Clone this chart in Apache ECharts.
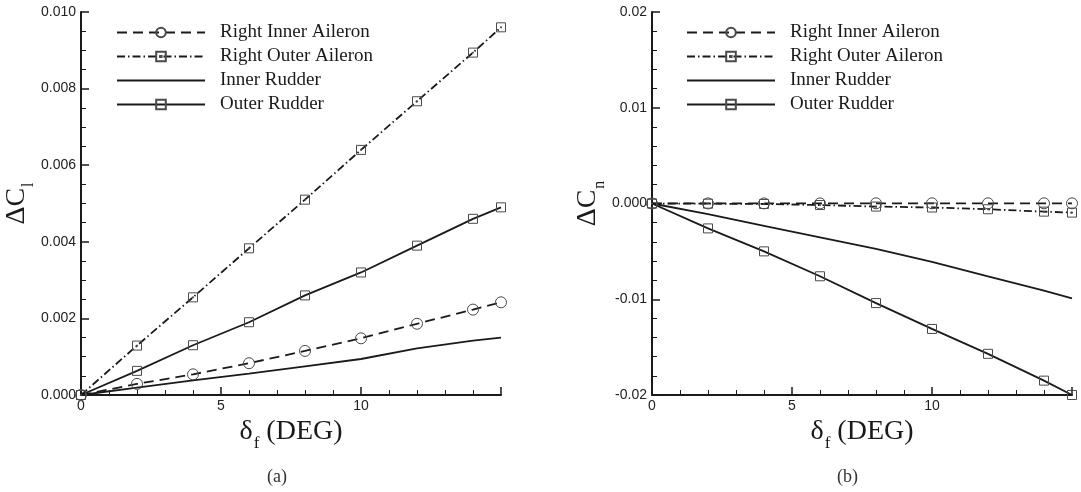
<!DOCTYPE html>
<html>
<head>
<meta charset="utf-8">
<script src="https://cdn.jsdelivr.net/npm/echarts@6/dist/echarts.min.js"></script>
<style>
  html, body { margin: 0; padding: 0; background: #fff; }
  #chart { width: 1081px; height: 492px; }
</style>
</head>
<body>
<div id="chart"></div>
<script>
// Flap deflection angles (deg)
const deflection = [0, 2, 4, 6, 8, 10, 12, 14, 15];

// Rolling-moment increments, panel (a)
const rightInnerAileronCl = [0, 0.00029, 0.00054, 0.00083, 0.00115, 0.00148, 0.00186, 0.00223, 0.00242];
const rightOuterAileronCl = [0, 0.00129, 0.00255, 0.00383, 0.0051, 0.0064, 0.00767, 0.00894, 0.0096];
const innerRudderCl       = [0, 0.00019, 0.00038, 0.00056, 0.00075, 0.00094, 0.00122, 0.00142, 0.0015];
const outerRudderCl       = [0, 0.00063, 0.0013, 0.0019, 0.0026, 0.0032, 0.0039, 0.0046, 0.0049];

// Yawing-moment increments, panel (b)
const rightInnerAileronCn = [0, 0.00001, 0.00001, 0.00001, 0.00002, 0.00002, 0.00002, 0.00002, 0.00002];
const rightOuterAileronCn = [0, -0.00002, -0.00005, -0.00016, -0.00032, -0.00042, -0.0006, -0.00085, -0.00095];
const innerRudderCn       = [0, -0.00112, -0.00233, -0.00353, -0.00475, -0.0061, -0.0076, -0.0091, -0.0099];
const outerRudderCn       = [0, -0.0026, -0.005, -0.0076, -0.0104, -0.0131, -0.0157, -0.0185, -0.02];

// Legend names
const seriesNames = ['Right Inner Aileron', 'Right Outer Aileron', 'Inner Rudder', 'Outer Rudder'];

// Tick labels
const xTickLabels  = { 0: '0', 5: '5', 10: '10', 15: '' };
const clTickLabels = ['0.000', '0.002', '0.004', '0.006', '0.008', '0.010'];
const cnTickLabels = { '-0.02': '-0.02', '-0.01': '-0.01', '0': '0.000', '0.01': '0.01', '0.02': '0.02' };

const INK = '#1a1a1a';
const MARK = '#4a4a4a';
const SANS = '"Liberation Sans", Arial, sans-serif';
const SERIF = '"Liberation Serif", "Times New Roman", serif';
const LINE_W = 1.8;

// square outline with a centre dot
const dottedSquare = 'path://M0,0L10,0L10,10L0,10Z M4.4,4.4L5.6,4.4L5.6,5.6L4.4,5.6Z';

function pairs(ys) { return deflection.map((x, i) => [x, ys[i]]); }

function lineSeries(idx, name, values, symbol, size, dash) {
  return {
    name: name, type: 'line', xAxisIndex: idx, yAxisIndex: idx,
    data: pairs(values),
    symbol: symbol, symbolSize: size, showSymbol: size > 0,
    lineStyle: { color: INK, width: LINE_W, type: dash },
    itemStyle: { color: 'rgba(0,0,0,0)', borderColor: MARK, borderWidth: 1 },
    emphasis: { disabled: true }
  };
}

function panelSeries(idx, a, b, c, d) {
  return [
    lineSeries(idx, seriesNames[1], b, dottedSquare, 9, [8, 3, 1.5, 3]),
    lineSeries(idx, seriesNames[2], c, 'circle', 0, 'solid'),
    lineSeries(idx, seriesNames[3], d, 'rect', 9, 'solid'),
    lineSeries(idx, seriesNames[0], a, 'circle', 11, [10, 6])
  ];
}

function xAxisFor(idx) {
  return {
    type: 'value', gridIndex: idx, min: 0, max: 15, interval: 5,
    name: '{d|δ}{s|f}{d| (DEG)}', nameLocation: 'middle', nameGap: 14,
    nameTextStyle: {
      rich: {
        d: { fontFamily: SERIF, fontSize: 28, lineHeight: 30, verticalAlign: 'top', color: INK },
        s: { fontFamily: SERIF, fontSize: 17, lineHeight: 17, padding: [17, 0, 0, 1], verticalAlign: 'top', color: INK }
      }
    },
    axisLine: { onZero: false, lineStyle: { color: INK, width: 2 } },
    axisTick: { inside: true, length: 8, lineStyle: { color: INK, width: 1.5 } },
    minorTick: { show: true, splitNumber: 5, length: 5, lineStyle: { color: INK, width: 1 } },
    splitLine: { show: false },
    axisLabel: {
      margin: 4, fontFamily: SANS, fontSize: 14, color: '#222',
      formatter: v => (xTickLabels[v] !== undefined ? xTickLabels[v] : String(v))
    }
  };
}

function yAxisFor(idx, min, max, interval, minorSplit, sub, fmt) {
  return {
    type: 'value', gridIndex: idx, min: min, max: max, interval: interval,
    name: '{a|ΔC}{s|' + sub + '}', nameLocation: 'middle', nameGap: 40, nameRotate: 90,
    nameTextStyle: {
      rich: {
        a: { fontFamily: SERIF, fontSize: 28, lineHeight: 30, verticalAlign: 'top', color: INK },
        s: { fontFamily: SERIF, fontSize: 16, lineHeight: 16, padding: [18, 0, 0, 1], verticalAlign: 'top', color: INK }
      }
    },
    axisLine: { onZero: false, lineStyle: { color: INK, width: 2 } },
    axisTick: { inside: true, length: 8, lineStyle: { color: INK, width: 1.5 } },
    minorTick: { show: true, splitNumber: minorSplit, length: 5, lineStyle: { color: INK, width: 1 } },
    splitLine: { show: false },
    axisLabel: { margin: 5, fontFamily: SANS, fontSize: 14, color: '#222', formatter: fmt }
  };
}

function legendFor(left) {
  return {
    left: left, top: 18, orient: 'vertical',
    data: [
      seriesNames[0],
      seriesNames[1],
      { name: seriesNames[2], itemStyle: { opacity: 0 } },
      seriesNames[3]
    ],
    itemWidth: 88, itemHeight: 12, itemGap: 5,
    selectedMode: false,
    textStyle: { fontFamily: SERIF, fontSize: 19, color: INK, lineHeight: 13, padding: [0, 0, 0, 10] }
  };
}

const chart = echarts.init(document.getElementById('chart'), null, { renderer: 'canvas' });
chart.setOption({
  animation: false,
  backgroundColor: '#fff',
  grid: [
    { left: 81, top: 12, width: 420, height: 383 },
    { left: 652, top: 12, width: 420, height: 383 }
  ],
  xAxis: [xAxisFor(0), xAxisFor(1)],
  yAxis: [
    yAxisFor(0, 0, 0.01, 0.002, 4, 'l', v => clTickLabels[Math.round(v / 0.002)]),
    yAxisFor(1, -0.02, 0.02, 0.01, 5, 'n', v => {
      const k = String(Math.round(v * 100) / 100);
      return cnTickLabels[k] !== undefined ? cnTickLabels[k] : k;
    })
  ],
  legend: [legendFor(111), legendFor(681)],
  series: [].concat(
    panelSeries(0, rightInnerAileronCl, rightOuterAileronCl, innerRudderCl, outerRudderCl),
    panelSeries(1, rightInnerAileronCn, rightOuterAileronCn, innerRudderCn, outerRudderCn)
  ),
  graphic: [
    { type: 'text', left: 267, top: 468, style: { text: '(a)', font: '18px ' + SERIF, fill: '#333' } },
    { type: 'text', left: 837, top: 468, style: { text: '(b)', font: '18px ' + SERIF, fill: '#333' } }
  ]
});
</script>
</body>
</html>
